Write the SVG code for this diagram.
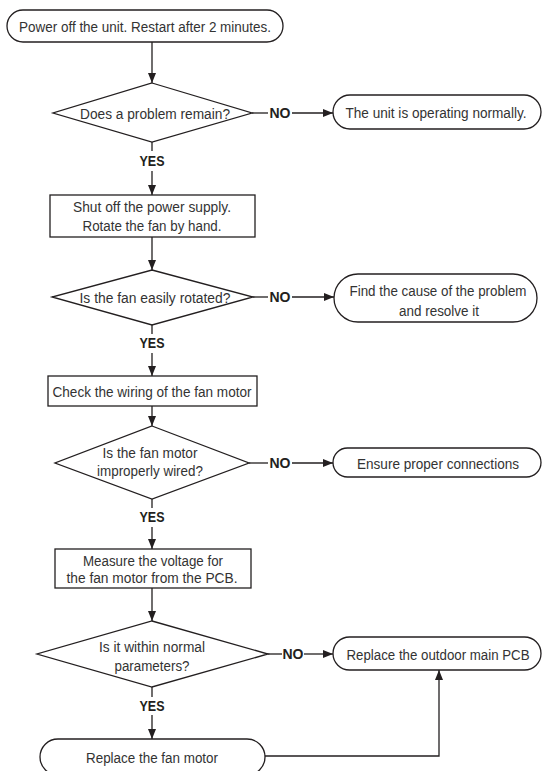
<svg xmlns="http://www.w3.org/2000/svg" width="542" height="771" viewBox="0 0 542 771">
<defs>
<style>
.s{fill:#fff;stroke:#231f20;stroke-width:1.3}
.c{fill:none;stroke:#231f20;stroke-width:1.3}
.t{font-family:"Liberation Sans",Arial,sans-serif;font-size:15.5px;fill:#333;text-anchor:middle}
.b{font-family:"Liberation Sans",Arial,sans-serif;font-size:15px;font-weight:bold;fill:#231f20;text-anchor:middle}
</style>
<marker id="ah" viewBox="0 0 10 8" refX="10" refY="4" markerWidth="10" markerHeight="8" markerUnits="userSpaceOnUse" orient="auto">
<path d="M0,0 L10,4 L0,8 Z" fill="#231f20"/>
</marker>
</defs>
<rect width="542" height="771" fill="#fff"/>
<g id="connectors">
<line class="c" x1="152" y1="42" x2="152" y2="83" marker-end="url(#ah)"/>
<line class="c" x1="252" y1="113" x2="268" y2="113"/>
<line class="c" x1="292" y1="113" x2="333" y2="113" marker-end="url(#ah)"/>
<line class="c" x1="152" y1="142" x2="152" y2="151"/>
<line class="c" x1="152" y1="171" x2="152" y2="195" marker-end="url(#ah)"/>
<line class="c" x1="152" y1="237" x2="152" y2="270" marker-end="url(#ah)"/>
<line class="c" x1="253" y1="297" x2="268" y2="297"/>
<line class="c" x1="292" y1="297" x2="334" y2="297" marker-end="url(#ah)"/>
<line class="c" x1="152" y1="325" x2="152" y2="334"/>
<line class="c" x1="152" y1="353" x2="152" y2="376" marker-end="url(#ah)"/>
<line class="c" x1="152" y1="406" x2="152" y2="426" marker-end="url(#ah)"/>
<line class="c" x1="249" y1="463" x2="268" y2="463"/>
<line class="c" x1="292" y1="463" x2="333" y2="463" marker-end="url(#ah)"/>
<line class="c" x1="152" y1="499" x2="152" y2="508"/>
<line class="c" x1="152" y1="527" x2="152" y2="549" marker-end="url(#ah)"/>
<line class="c" x1="152" y1="588" x2="152" y2="621" marker-end="url(#ah)"/>
<line class="c" x1="268" y1="654" x2="282" y2="654"/>
<line class="c" x1="304" y1="654" x2="333" y2="654" marker-end="url(#ah)"/>
<line class="c" x1="152" y1="687" x2="152" y2="697"/>
<line class="c" x1="152" y1="715" x2="152" y2="739" marker-end="url(#ah)"/>
<polyline class="c" points="265,756 439,756 439,670" marker-end="url(#ah)"/>
<text class="b" transform="translate(280,118) scale(0.85,1)" textLength="24.7" lengthAdjust="spacingAndGlyphs">NO</text>
<text class="b" transform="translate(152,166) scale(0.85,1)" textLength="29.4" lengthAdjust="spacingAndGlyphs">YES</text>
<text class="b" transform="translate(280,302) scale(0.85,1)" textLength="24.7" lengthAdjust="spacingAndGlyphs">NO</text>
<text class="b" transform="translate(152,348) scale(0.85,1)" textLength="29.4" lengthAdjust="spacingAndGlyphs">YES</text>
<text class="b" transform="translate(280,468) scale(0.85,1)" textLength="24.7" lengthAdjust="spacingAndGlyphs">NO</text>
<text class="b" transform="translate(152,522) scale(0.85,1)" textLength="29.4" lengthAdjust="spacingAndGlyphs">YES</text>
<text class="b" transform="translate(293,659) scale(0.85,1)" textLength="24.7" lengthAdjust="spacingAndGlyphs">NO</text>
<text class="b" transform="translate(152,711) scale(0.85,1)" textLength="29.4" lengthAdjust="spacingAndGlyphs">YES</text>
</g>
<g id="start">
<rect class="s" x="7" y="10" width="276" height="32" rx="16"/>
<text class="t" transform="translate(145,31.5) scale(0.85,1)" textLength="296.5" lengthAdjust="spacingAndGlyphs">Power off the unit. Restart after 2 minutes.</text>
</g>
<g id="d1">
<polygon class="s" points="152,83 252,113 152,142 53,113"/>
<text class="t" transform="translate(155,118.5) scale(0.85,1)" textLength="176.5" lengthAdjust="spacingAndGlyphs">Does a problem remain?</text>
</g>
<g id="normal">
<rect class="s" x="333" y="95" width="208" height="34" rx="17"/>
<text class="t" transform="translate(436,117.5) scale(0.85,1)" textLength="213" lengthAdjust="spacingAndGlyphs">The unit is operating normally.</text>
</g>
<g id="b1">
<rect class="s" x="50" y="195" width="205" height="42"/>
<text class="t" transform="translate(152,211.5) scale(0.85,1)" textLength="185.9" lengthAdjust="spacingAndGlyphs">Shut off the power supply.</text>
<text class="t" transform="translate(152,230.5) scale(0.85,1)" textLength="163.5" lengthAdjust="spacingAndGlyphs">Rotate the fan by hand.</text>
</g>
<g id="d2">
<polygon class="s" points="152,270 253,297 152,325 52,297"/>
<text class="t" transform="translate(155,302.5) scale(0.85,1)" textLength="177.6" lengthAdjust="spacingAndGlyphs">Is the fan easily rotated?</text>
</g>
<g id="findcause">
<rect class="s" x="334" y="274" width="203" height="48" rx="24"/>
<text class="t" transform="translate(438,295.5) scale(0.85,1)" textLength="208.2" lengthAdjust="spacingAndGlyphs">Find the cause of the problem</text>
<text class="t" transform="translate(439,315.5) scale(0.85,1)" textLength="94.1" lengthAdjust="spacingAndGlyphs">and resolve it</text>
</g>
<g id="b2">
<rect class="s" x="48" y="376" width="209" height="30"/>
<text class="t" transform="translate(152,396.5) scale(0.85,1)" textLength="234.1" lengthAdjust="spacingAndGlyphs">Check the wiring of the fan motor</text>
</g>
<g id="d3">
<polygon class="s" points="152,426 249,463 152,499 55,463"/>
<text class="t" transform="translate(150,457.5) scale(0.85,1)" textLength="111.8" lengthAdjust="spacingAndGlyphs">Is the fan motor</text>
<text class="t" transform="translate(150,475.5) scale(0.85,1)" textLength="124.7" lengthAdjust="spacingAndGlyphs">improperly wired?</text>
</g>
<g id="ensure">
<rect class="s" x="333" y="448" width="208" height="29" rx="14.5"/>
<text class="t" transform="translate(438,468.5) scale(0.85,1)" textLength="190.6" lengthAdjust="spacingAndGlyphs">Ensure proper connections</text>
</g>
<g id="b3">
<rect class="s" x="55" y="549" width="196" height="39"/>
<text class="t" transform="translate(153,565.5) scale(0.85,1)" textLength="164.7" lengthAdjust="spacingAndGlyphs">Measure the voltage for</text>
<text class="t" transform="translate(152,582.5) scale(0.85,1)" textLength="201.2" lengthAdjust="spacingAndGlyphs">the fan motor from the  PCB.</text>
</g>
<g id="d4">
<polygon class="s" points="152,621 268,654 152,687 37,654"/>
<text class="t" transform="translate(152,651.5) scale(0.85,1)" textLength="124.7" lengthAdjust="spacingAndGlyphs">Is it within normal</text>
<text class="t" transform="translate(152,670.5) scale(0.85,1)" textLength="88.2" lengthAdjust="spacingAndGlyphs">parameters?</text>
</g>
<g id="replacepcb">
<rect class="s" x="333" y="637" width="208" height="33" rx="16.5"/>
<text class="t" transform="translate(438,659.5) scale(0.85,1)" textLength="215.3" lengthAdjust="spacingAndGlyphs">Replace the outdoor main PCB</text>
</g>
<g id="replacefan">
<rect class="s" x="40" y="739" width="225" height="36" rx="18"/>
<text class="t" transform="translate(152,762.5) scale(0.85,1)" textLength="155.3" lengthAdjust="spacingAndGlyphs">Replace the fan motor</text>
</g>
</svg>
